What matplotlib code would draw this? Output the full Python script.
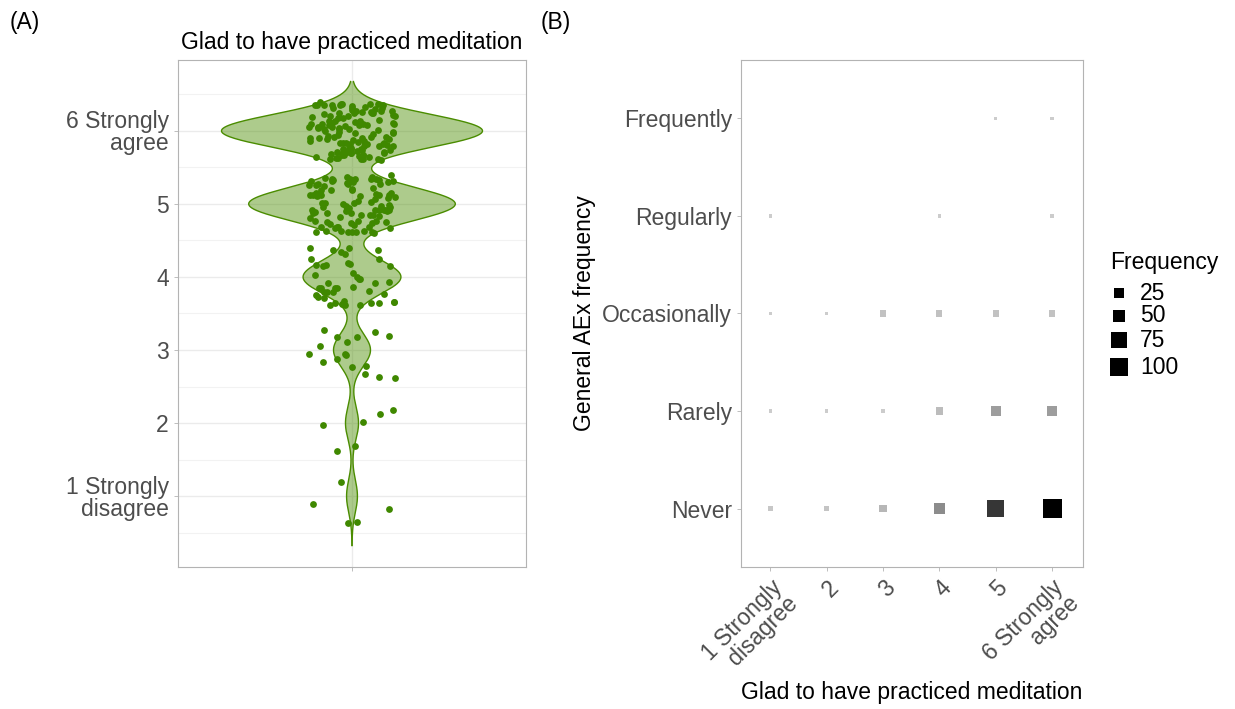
import numpy as np
import matplotlib
matplotlib.use("Agg")
import matplotlib.pyplot as plt
from matplotlib.colors import LinearSegmentedColormap

# ---------------- data ----------------
glad_levels = [1, 2, 3, 4, 5, 6]
glad_labels = ['1 Strongly\ndisagree', '2', '3', '4', '5', '6 Strongly\nagree']
glad_counts = [5, 6, 17, 45, 95, 120]          # panel A responses per level

freq_categories = ['Never', 'Rarely', 'Occasionally', 'Regularly', 'Frequently']
never_counts = [4, 6, 14, 40, 92, 125]
rarely_counts = [1, 1, 1, 11, 30, 30]
occasionally_counts = [1, 1, 7, 8, 7, 7]
regularly_counts = [1, 0, 0, 1, 0, 1]
frequently_counts = [0, 0, 0, 0, 1, 1]
legend_breaks = [25, 50, 75, 100]

# ---------------- style ----------------
plt.rcParams['font.family'] = ['Liberation Sans', 'DejaVu Sans']
FS = 16.5
TICK_C = '#4d4d4d'
BORDER_C = '#b3b3b3'
GRID_C = '#ebebeb'
GREEN = '#4a8c00'
PT_GREEN = '#3f8800'

W, H = 1235, 709
fig = plt.figure(figsize=(W / 100, H / 100), dpi=100)


def ax_rect(l, t, r, b):
    return [l / W, 1 - b / H, (r - l) / W, (b - t) / H]


def style_axes(ax):
    for s in ax.spines.values():
        s.set_color(BORDER_C)
        s.set_linewidth(0.8)
    ax.tick_params(colors=TICK_C, labelcolor=TICK_C, labelsize=FS,
                   length=3, width=0.6, color=BORDER_C)


# ---------------- panel A ----------------
axA = fig.add_axes(ax_rect(178, 60, 526, 567))
style_axes(axA)
axA.set_xlim(0.4, 1.6)
axA.set_ylim(0.03, 6.97)

vals = np.repeat(glad_levels, glad_counts).astype(float)
bw = 0.225
grid = np.linspace(vals.min() - 3 * bw, vals.max() + 3 * bw, 800)
dens = np.exp(-0.5 * ((grid[:, None] - vals[None, :]) / bw) ** 2).sum(axis=1)
half = 0.45 * dens / dens.max()
axA.fill_betweenx(grid, 1 - half, 1 + half, facecolor=GREEN, alpha=0.45,
                  edgecolor='none', zorder=2)
axA.plot(1 - half, grid, color=GREEN, lw=1.0, zorder=3)
axA.plot(1 + half, grid, color=GREEN, lw=1.0, zorder=3)

# deterministic jitter layout (hash sequence) around each response level
idx = np.arange(len(vals)) + 1.0
jx = (np.sin(idx * 12.9898) * 43758.5453) % 1.0 * 2 - 1
jy = (np.sin(idx * 78.233) * 24634.6345) % 1.0 * 2 - 1
axA.scatter(1 + 0.15 * jx, vals + 0.4 * jy, s=24, color=PT_GREEN,
            linewidths=0, zorder=4)

axA.set_yticks(glad_levels)
axA.set_yticklabels(glad_labels, ha='right', ma='right', fontsize=FS,
                    linespacing=0.95)
axA.set_yticks(np.arange(0.5, 7.0, 1.0), minor=True)
axA.tick_params(axis='y', which='minor', length=0)
axA.set_xticks([1])
axA.set_xticklabels([''])
axA.grid(True, which='major', color=GRID_C, lw=1.0, zorder=0)
axA.grid(True, which='minor', axis='y', color='#f2f2f2', lw=0.8, zorder=0)
axA.set_axisbelow(True)
axA.set_title('Glad to have practiced meditation', fontsize=FS, color='black',
              pad=8)

# ---------------- panel B ----------------
axB = fig.add_axes(ax_rect(741, 60, 1083, 567))
style_axes(axB)
axB.set_xlim(0.48, 6.55)
axB.set_ylim(0.4, 5.6)

matrix = np.array([never_counts, rarely_counts, occasionally_counts,
                   regularly_counts, frequently_counts], dtype=float)
nmax = matrix.max()
cmap = LinearSegmentedColormap.from_list('greys', ['#cccccc', '#000000'])


def side_px(n):
    return 3.5 + 15.5 * (np.sqrt(n) - 1) / (np.sqrt(nmax) - 1)


xs, ys, ns = [], [], []
for r, row in enumerate(matrix):
    for c, n in enumerate(row):
        if n > 0:
            xs.append(glad_levels[c])
            ys.append(r + 1)
            ns.append(n)
ns = np.array(ns)
sizes = (side_px(ns) * 0.72) ** 2
axB.scatter(xs, ys, s=sizes, marker='s', c=ns, cmap=cmap, vmin=1, vmax=nmax,
            linewidths=0, zorder=3)

axB.set_xticks(glad_levels)
axB.set_xticklabels(glad_labels, rotation=45, ha='right', va='top',
                    rotation_mode='anchor', ma='right', fontsize=FS,
                    linespacing=0.95)
axB.set_yticks(range(1, len(freq_categories) + 1))
axB.set_yticklabels(freq_categories, fontsize=FS)
axB.set_xlabel('Glad to have practiced meditation', fontsize=FS, color='black',
               va='center')
axB.xaxis.set_label_coords(0.5, (567 - 692) / 507)
axB.set_ylabel('General AEx frequency', fontsize=FS, color='black',
               va='center')
axB.yaxis.set_label_coords((585 - 741) / 342, 0.5)

# ---------------- legend (drawn in a pixel-coordinate axes) ----------------
axL = fig.add_axes(ax_rect(1100, 245, 1230, 385))
axL.set_xlim(1100, 1230)
axL.set_ylim(385, 245)
axL.axis('off')
axL.text(1110, 262, 'Frequency', fontsize=FS, va='center', ha='left',
         color='black')
leg_y = [293, 316, 340, 367]
axL.scatter([1119] * len(legend_breaks), leg_y,
            s=(side_px(np.array(legend_breaks, float)) * 0.72) ** 2,
            marker='s', color='black', linewidths=0)
for yy, b in zip(leg_y, legend_breaks):
    axL.text(1140, yy, str(b), fontsize=FS, va='center', ha='left',
             color='black')

# panel letters
fig.text(10 / W, 1 - 22 / H, '(A)', fontsize=FS, va='center', ha='left')
fig.text(541 / W, 1 - 22 / H, '(B)', fontsize=FS, va='center', ha='left')

fig.savefig('out.png', dpi=100)
